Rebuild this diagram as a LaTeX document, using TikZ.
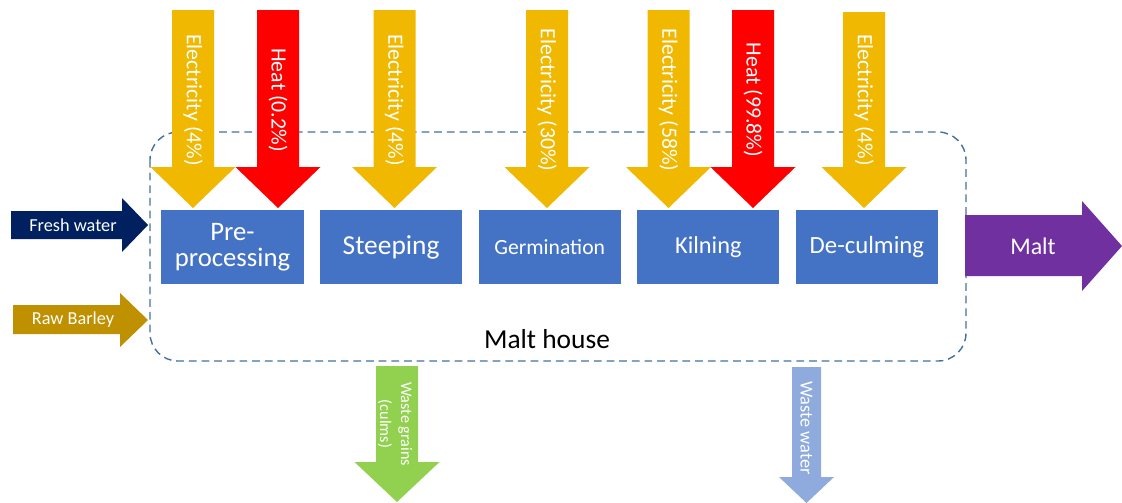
\documentclass[tikz,border=0pt]{standalone}
\usepackage{fontspec}
\setmainfont{Carlito}
\usepackage{tikz}
\usetikzlibrary{positioning}

\definecolor{boxblue}{RGB}{68,114,196}
\definecolor{elec}{RGB}{240,184,0}
\definecolor{heat}{RGB}{255,0,0}
\definecolor{freshwater}{RGB}{0,32,96}
\definecolor{barley}{RGB}{191,144,0}
\definecolor{maltpurple}{RGB}{112,48,160}
\definecolor{grains}{RGB}{146,208,80}
\definecolor{wastewater}{RGB}{143,170,220}
\definecolor{houseline}{RGB}{65,113,156}

\begin{document}
\begin{tikzpicture}[
  x=0.025cm,
  y=-0.025cm,
  process/.style={
    fill=boxblue,
    text=white,
    minimum width=3.55cm,
    minimum height=1.825cm,
    inner sep=0pt,
    align=center
  },
  arrowtext/.style={
    text=white,
    inner sep=0pt,
    align=center,
    rotate=-90,
    font=\fontsize{15.5}{18}\selectfont
  },
  sidetext/.style={
    text=white,
    inner sep=0pt,
    font=\fontsize{13}{15}\selectfont
  },
  house/.style={
    draw=houseline,
    line width=1pt,
    dash pattern=on 5.5pt off 3.5pt,
    rounded corners=0.7cm
  }
]
\useasboundingbox (0,0) rectangle (1122,502);

% malt house boundary
\draw[house] (150,132) rectangle (966,361);
\node[font=\fontsize{19.5}{22}\selectfont] (house) at (547,339) {Malt house};

% process steps
\node[process,font=\fontsize{19}{18.5}\selectfont] (pre) at (232.5,247) {Pre-\\processing};
\node[process,right=0.4cm of pre,font=\fontsize{19.5}{22}\selectfont] (steep) {Steeping};
\node[process,right=0.4cm of steep,font=\fontsize{15.4}{18}\selectfont] (germ) {Germination};
\node[process,right=0.4cm of germ,font=\fontsize{17.3}{20}\selectfont] (kiln) {Kilning};
\node[process,right=0.4cm of kiln,font=\fontsize{17.6}{20}\selectfont] (decul) {De-culming};

% energy inputs
\foreach \cx/\ytop/\col/\lab [count=\i] in {
    193/10/elec/{Electricity (4\%)},
    278/10/heat/{Heat (0.2\%)},
    394.5/10/elec/{Electricity (4\%)},
    547/10/elec/{Electricity (30\%)},
    668.5/10/elec/{Electricity (58\%)},
    753/10/heat/{Heat (99.8\%)},
    864/12/elec/{Electricity (4\%)}}{
  \fill[\col] (\cx-21,\ytop) -- (\cx+21,\ytop) -- (\cx+21,167) -- (\cx+42.5,167)
    -- (\cx,208) -- (\cx-42.5,167) -- (\cx-21,167) -- cycle;
  \node[arrowtext] (energy\i) at (\cx,100) {\lab};
}

% raw inputs
\fill[freshwater] (11,211) -- (122,211) -- (122,198) -- (148,225) -- (122,252)
  -- (122,239) -- (11,239) -- cycle;
\node[sidetext] (fresh) at (73,225) {Fresh water};
\fill[barley] (13,305) -- (120,305) -- (120,293) -- (148,320) -- (120,347)
  -- (120,334) -- (13,334) -- cycle;
\node[sidetext] (raw) at (73,320) {Raw Barley};

% product
\fill[maltpurple] (965,215) -- (1082,215) -- (1082,201) -- (1122,246) -- (1082,291)
  -- (1082,276) -- (965,276) -- cycle;
\node[text=white,font=\fontsize{17}{20}\selectfont] (malt) at (1033,246) {Malt};

% waste streams
\fill[grains] (376,366) -- (418,366) -- (418,462) -- (439.5,462) -- (397,502)
  -- (354.5,462) -- (376,462) -- cycle;
\node[arrowtext,font=\fontsize{11.5}{15}\selectfont] (culms) at (395,424) {Waste grains\\(culms)};
\fill[wastewater] (792,367) -- (821,367) -- (821,477) -- (834,477) -- (806.5,503)
  -- (779,477) -- (792,477) -- cycle;
\node[arrowtext,font=\fontsize{13}{15}\selectfont] (wastew) at (806.5,428) {Waste water};
\end{tikzpicture}
\end{document}
